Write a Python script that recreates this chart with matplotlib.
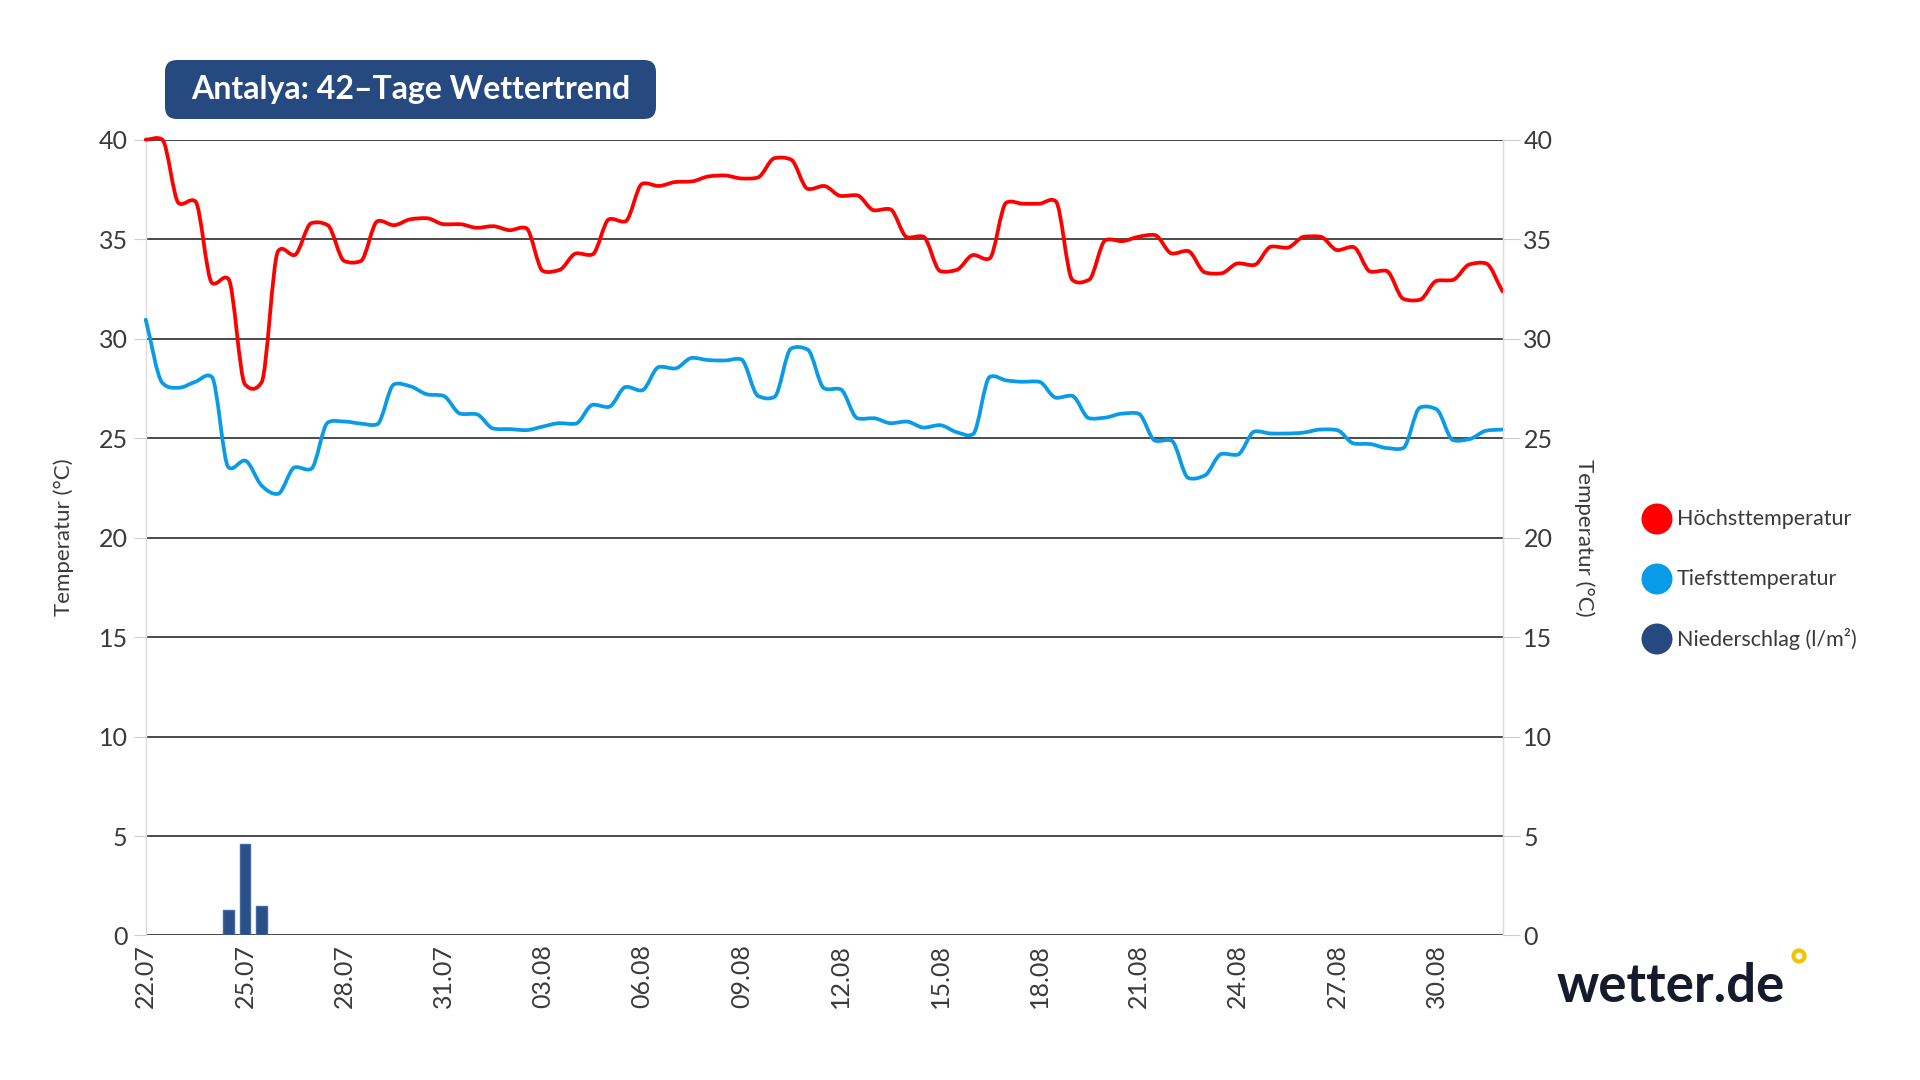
"""
Antalya 42-Tage Wettertrend (wetter.de style)
"""
import numpy as np
import pandas as pd
import matplotlib
matplotlib.use("Agg")
import matplotlib.pyplot as plt
from matplotlib.path import Path
from matplotlib.patches import PathPatch, FancyBboxPatch, Circle

# ── Data ──────────────────────────────────────────────────────────────────────
start = pd.Timestamp("2024-07-22")
times = pd.date_range(start, start + pd.Timedelta(days=41), freq="12h")

# one value per half day (d, d+0.5)
t_max = [40.0, 40.0,   36.8, 36.9,   32.8, 33.0,   27.7, 27.8,   34.4, 34.2,
         35.8, 35.7,   33.9, 33.9,   35.9, 35.7,   36.0, 36.05,  35.75, 35.75,
         35.57, 35.65, 35.45, 35.55, 33.4, 33.45,  34.28, 34.23, 36.0, 35.9,
         37.78, 37.67, 37.87, 37.9,  38.15, 38.2,  38.05, 38.1,  39.07, 39.0,
         37.53, 37.67, 37.17, 37.2,  36.45, 36.5,  35.1, 35.12,  33.4, 33.45,
         34.2, 34.03,  36.83, 36.78, 36.78, 36.9,  32.95, 32.95, 34.95, 34.9,
         35.12, 35.2,  34.28, 34.4,  33.33, 33.28, 33.78, 33.7,  34.62, 34.57,
         35.12, 35.12, 34.45, 34.6,  33.37, 33.4,  32.0, 31.95,  32.9, 32.95,
         33.73, 33.78, 32.37]
t_min = [30.95, 27.78, 27.53, 27.83, 28.07, 23.53, 23.87, 22.62, 22.2, 23.53,
         23.45, 25.78, 25.83, 25.73, 25.7, 27.7,   27.6, 27.2,   27.12, 26.23,
         26.2, 25.48,  25.45, 25.4,  25.58, 25.75, 25.73, 26.67, 26.57, 27.57,
         27.4, 28.57,  28.5, 29.03,  28.92, 28.9,  28.95, 27.12, 27.07, 29.5,
         29.45, 27.5,  27.45, 26.0,  26.0, 25.75,  25.83, 25.53, 25.65, 25.3,
         25.2, 28.07,  27.9, 27.83,  27.83, 27.03, 27.12, 26.0,  26.03, 26.23,
         26.23, 24.87, 24.87, 23.0,  23.12, 24.2,  24.17, 25.33, 25.23, 25.23,
         25.28, 25.43, 25.4, 24.73,  24.7, 24.5,   24.5, 26.53,  26.45, 24.9,
         24.95, 25.37, 25.43]

precip_times = pd.to_datetime(["2024-07-24 12:00", "2024-07-25 00:00", "2024-07-25 12:00"])
precip = [1.3, 4.6, 1.5]

legend_labels = ["Höchsttemperatur", "Tiefsttemperatur", "Niederschlag (l/m²)"]
title = "Antalya: 42–Tage Wettertrend"

RED = "#ff0000"
BLUE = "#0a9be8"
NAVY = "#264a7f"
GRID = "#4a4a4a"
TEXT = "#3a3a3a"

plt.rcParams["font.family"] = ["Lato", "DejaVu Sans"]


def days(ts):
    return np.asarray((ts - start) / pd.Timedelta(days=1), dtype=float)


def smooth_path(x, y, mix=0.35):
    """smooth curve through the points (monotone tangents, softened), as bezier path"""
    x = np.asarray(x, float)
    y = np.asarray(y, float)
    h = np.diff(x)
    s = np.diff(y) / h
    mono = np.zeros_like(y)
    mono[0], mono[-1] = s[0], s[-1]
    for i in range(1, len(y) - 1):
        if s[i - 1] * s[i] > 0:
            p = (s[i - 1] * h[i] + s[i] * h[i - 1]) / (h[i - 1] + h[i])
            mono[i] = np.sign(p) * min(abs(s[i - 1]), abs(s[i]), 0.5 * abs(p)) * 2
    cr = mono.copy()
    cr[1:-1] = (y[2:] - y[:-2]) / (x[2:] - x[:-2])
    m = (1 - mix) * mono + mix * cr
    verts = [(x[0], y[0])]
    codes = [Path.MOVETO]
    for i in range(len(x) - 1):
        verts += [(x[i] + h[i] / 3, y[i] + m[i] * h[i] / 3),
                  (x[i + 1] - h[i] / 3, y[i + 1] - m[i + 1] * h[i] / 3),
                  (x[i + 1], y[i + 1])]
        codes += [Path.CURVE4] * 3
    return Path(verts, codes)


fig = plt.figure(figsize=(19.2, 10.8), dpi=100)
ax = fig.add_axes([0.0759, 0.1338, 0.7067, 0.7369])

x = days(times)
ax.bar(days(precip_times), precip, width=0.33, color="#2b4f86",
       edgecolor="#4169a6", linewidth=1, zorder=3)
for vals, col in [(t_max, RED), (t_min, BLUE)]:
    ax.add_patch(PathPatch(smooth_path(x, vals), fill=False, edgecolor=col,
                           linewidth=2.7, capstyle="round", joinstyle="round",
                           zorder=4, clip_on=False))

ax.set_xlim(0, 41)
ax.set_ylim(0, 40)
yt = np.arange(0, 41, 5)
ax.set_yticks(yt)
ax.yaxis.grid(True, color=GRID, linewidth=1.4)
ax.set_axisbelow(True)

tick_days = np.arange(0, 41, 3)
ax.set_xticks(tick_days)
ax.set_xticklabels([(start + pd.Timedelta(days=int(d))).strftime("%d.%m") for d in tick_days],
                   rotation=90, fontsize=18, color=TEXT)
ax.tick_params(axis="x", length=0, pad=6)
ax.tick_params(axis="y", length=9, color="#cccccc", pad=4, labelsize=18, labelcolor=TEXT)

for sp in ["top", "bottom"]:
    ax.spines[sp].set_visible(False)
for sp in ["left", "right"]:
    ax.spines[sp].set_color("#dddddd")
    ax.spines[sp].set_linewidth(1)

ax.set_ylabel("Temperatur (°C)", fontsize=16, color=TEXT)
ax.yaxis.set_label_coords(-0.053, 0.5)

ax2 = ax.twinx()
ax2.set_ylim(0, 40)
ax2.set_yticks(yt)
ax2.tick_params(axis="y", length=12, color="#cccccc", pad=3, labelsize=18, labelcolor=TEXT)
for sp in ["top", "bottom", "left"]:
    ax2.spines[sp].set_visible(False)
ax2.spines["right"].set_color("#dddddd")
ax2.set_ylabel("Temperatur (°C)", fontsize=16, color=TEXT, rotation=270)
ax2.yaxis.set_label_coords(1.068, 0.5)

# title box
tr = fig.dpi_scale_trans
fig.patches.append(FancyBboxPatch((1.65, 9.61), 4.91, 0.59,
                                  boxstyle="round,pad=0,rounding_size=0.12",
                                  fc=NAVY, ec="none", transform=tr, figure=fig))
fig.text(4.105, 9.905, title, transform=tr, ha="center", va="center",
         fontsize=23, color="white", fontweight="bold")

# legend
for i, (lab, col) in enumerate(zip(legend_labels, [RED, BLUE, NAVY])):
    yy = 5.61 - i * 0.60
    fig.patches.append(Circle((16.57, yy), 0.155, fc=col, ec="none", transform=tr, figure=fig))
    fig.text(16.77, yy, lab, transform=tr, ha="left", va="center", fontsize=15.5, color=TEXT)

# logo
fig.text(15.57, 0.93, "wetter.de", transform=tr, ha="left", va="center",
         fontsize=38, fontweight="bold", color="#151a2c")
fig.patches.append(Circle((17.99, 1.24), 0.055, fill=False, ec="#f5c200", lw=3,
                          transform=tr, figure=fig))

fig.savefig("out.png", dpi=100)
